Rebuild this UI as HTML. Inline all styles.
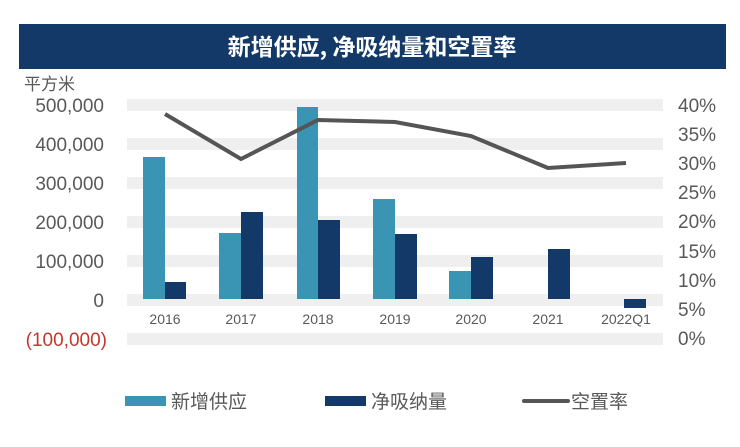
<!DOCTYPE html>
<html><head><meta charset="utf-8"><style>
body{margin:0;background:#fff;width:740px;height:442px;overflow:hidden;font-family:"Liberation Sans","Noto Sans CJK SC",sans-serif;}
</style></head><body>
<svg width="740" height="442" xmlns="http://www.w3.org/2000/svg" font-family="Liberation Sans, Noto Sans CJK SC, sans-serif">
<rect x="19" y="24" width="707" height="45" fill="#133968"/>
<text x="372" y="55" text-anchor="middle" fill="#fff" font-size="23" font-weight="bold" font-family="Noto Sans CJK SC, sans-serif">新增供应, 净吸纳量和空置率</text>
<g fill="#efefef">
<rect x="127" y="99" width="536" height="12"/>
<rect x="127" y="138" width="536" height="12"/>
<rect x="127" y="177" width="536" height="12"/>
<rect x="127" y="216" width="536" height="12"/>
<rect x="127" y="255" width="536" height="12"/>
<rect x="127" y="294" width="536" height="12"/>
<rect x="127" y="333" width="536" height="12"/>
</g>
<text x="24" y="90" font-size="17" fill="#595959" font-family="Noto Sans CJK SC, sans-serif">平方米</text>
<g font-size="19" fill="#595959" text-anchor="end">
<text x="104" y="112">500,000</text>
<text x="104" y="151">400,000</text>
<text x="104" y="190">300,000</text>
<text x="104" y="229">200,000</text>
<text x="104" y="268">100,000</text>
<text x="104" y="307">0</text>
<text x="107" y="346" fill="#c0392b">(100,000)</text>
</g>
<g font-size="19" fill="#595959">
<text x="678" y="112">40%</text>
<text x="678" y="141">35%</text>
<text x="678" y="170">30%</text>
<text x="678" y="199">25%</text>
<text x="678" y="228">20%</text>
<text x="678" y="258">15%</text>
<text x="678" y="287">10%</text>
<text x="678" y="316">5%</text>
<text x="678" y="345">0%</text>
</g>
<g fill="#3a94b4">
<rect x="143" y="157" width="22" height="142"/>
<rect x="219" y="233" width="22" height="66"/>
<rect x="297" y="107" width="21" height="192"/>
<rect x="373" y="199" width="22" height="100"/>
<rect x="449" y="271" width="22" height="28"/>
</g>
<g fill="#133968">
<rect x="165" y="282" width="21" height="17"/>
<rect x="241" y="212" width="22" height="87"/>
<rect x="318" y="220" width="22" height="79"/>
<rect x="395" y="234" width="22" height="65"/>
<rect x="471" y="257" width="22" height="42"/>
<rect x="548" y="249" width="22" height="50"/>
<rect x="624" y="299" width="22" height="9"/>
</g>
<g font-size="14" fill="#595959" text-anchor="middle">
<text x="165" y="324">2016</text>
<text x="241" y="324">2017</text>
<text x="318" y="324">2018</text>
<text x="395" y="324">2019</text>
<text x="471" y="324">2020</text>
<text x="548" y="324">2021</text>
<text x="626" y="324">2022Q1</text>
</g>
<polyline points="165,114 241,159 318,120 395,122 471,136 548,168 626,163" fill="none" stroke="#555" stroke-width="4"/>
<rect x="125" y="396" width="41" height="10" fill="#3a94b4"/>
<text x="171" y="408" font-size="19" fill="#595959" font-family="Noto Sans CJK SC, sans-serif">新增供应</text>
<rect x="325" y="396" width="41" height="10" fill="#133968"/>
<text x="371" y="408" font-size="19" fill="#595959" font-family="Noto Sans CJK SC, sans-serif">净吸纳量</text>
<line x1="524" y1="401" x2="568" y2="401" stroke="#555" stroke-width="4" stroke-linecap="round"/>
<text x="571" y="408" font-size="19" fill="#595959" font-family="Noto Sans CJK SC, sans-serif">空置率</text>
</svg>
</body></html>
